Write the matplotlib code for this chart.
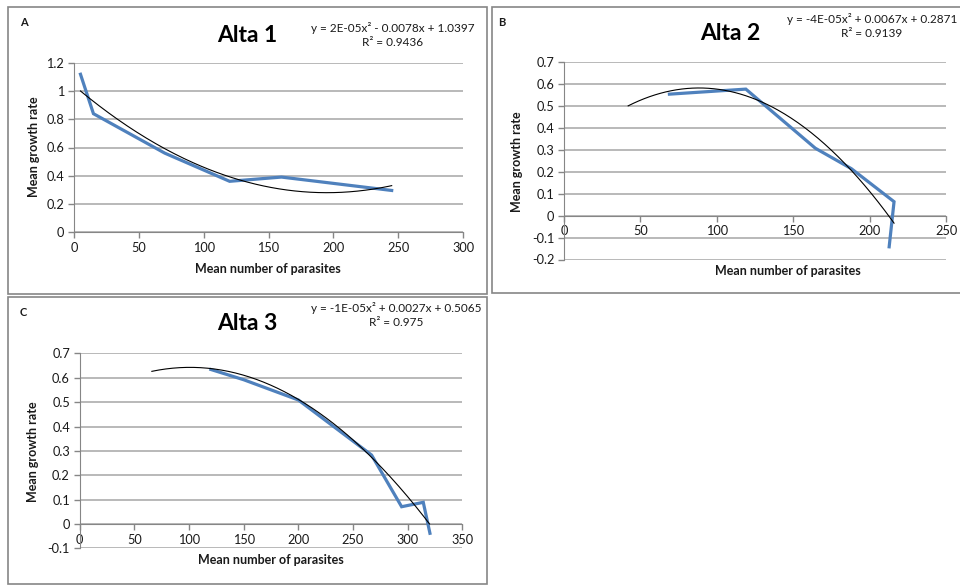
import matplotlib
matplotlib.use("Agg")
import matplotlib.pyplot as plt
from matplotlib.patches import Rectangle
import numpy as np

plt.rcParams['font.family'] = ['Lato', 'DejaVu Sans']

# Alta 1
a1_x = [5, 15, 70, 120, 160, 245]
a1_y = [1.12, 0.84, 0.56, 0.36, 0.39, 0.295]
a1_coef = [2.0e-5, -0.0078, 1.0397]
a1_r2 = 0.9436
a1_span = [5, 245]

# Alta 2
a2_x = [69, 119, 164.5, 188, 216, 212.8]
a2_y = [0.555, 0.578, 0.308, 0.215, 0.064, -0.142]
a2_coef = [-3.79e-5, 0.0067, 0.2871]
a2_r2 = 0.9139
a2_span = [42, 216]

# Alta 3
a3_x = [120, 150, 200, 267, 294.5, 314.3, 320.4]
a3_y = [0.634, 0.592, 0.509, 0.283, 0.071, 0.089, -0.038]
a3_coef = [-1.338e-5, 0.0027, 0.5065]
a3_r2 = 0.975
a3_span = [66, 320]

W, H = 960, 586
BLUE = '#4f81bd'
GRID = '#a6a6a6'
EDGE = '#868686'
TXT = '#1a1a1a'


def rect(l, t, r, b):
    return [l / W, 1 - b / H, (r - l) / W, (b - t) / H]


def equation(coef):
    a, b, c = coef
    s = f"y = {a:.0E}x\u00b2 "
    s += ("+ " if b >= 0 else "- ") + f"{abs(b):.4f}x "
    s += ("+ " if c >= 0 else "- ") + f"{abs(c):.4f}"
    return s


fig = plt.figure(figsize=(9.6, 5.86), dpi=100)

# panel frames
for l, t, r, b in [(8, 7, 487, 294), (492, 7, 961, 293), (8, 297, 487, 584)]:
    fig.patches.append(Rectangle((l / W, 1 - b / H), (r - l) / W, (b - t) / H,
                                 transform=fig.transFigure, fill=False,
                                 edgecolor=EDGE, lw=1.2))

panels = [
    dict(x=a1_x, y=a1_y, coef=a1_coef, r2=a1_r2, span=a1_span, title='Alta 1', tag='A',
         box=(74, 63, 463, 232), xlim=(0, 300), xstep=50, ylim=(0, 1.2), ystep=0.2,
         title_xy=(247, 35), eq_xy=(393, 35), tag_xy=(24, 23),
         ylab_xy=(34, 147), xlab_xy=(268, 269)),
    dict(x=a2_x, y=a2_y, coef=a2_coef, r2=a2_r2, span=a2_span, title='Alta 2', tag='B',
         box=(564, 62.4, 946, 259.5), xlim=(0, 250), xstep=50, ylim=(-0.2, 0.7), ystep=0.1,
         title_xy=(730, 33), eq_xy=(872, 26), tag_xy=(502, 23),
         ylab_xy=(517, 162), xlab_xy=(788, 271)),
    dict(x=a3_x, y=a3_y, coef=a3_coef, r2=a3_r2, span=a3_span, title='Alta 3', tag='C',
         box=(79.7, 353.4, 462.3, 548.4), xlim=(0, 350), xstep=50, ylim=(-0.1, 0.7), ystep=0.1,
         title_xy=(247, 323), eq_xy=(396, 315), tag_xy=(23, 313),
         ylab_xy=(33, 452), xlab_xy=(271, 560)),
]

for p in panels:
    ax = fig.add_axes(rect(*p['box']))
    ax.set_xlim(*p['xlim'])
    ax.set_ylim(*p['ylim'])
    ax.set_xticks(np.arange(p['xlim'][0], p['xlim'][1] + 1, p['xstep']))
    yt = np.round(np.arange(p['ylim'][0], p['ylim'][1] + 1e-9, p['ystep']), 1)
    ax.set_yticks(yt)
    ax.set_yticklabels([f"{v:g}" for v in yt])

    ax.grid(axis='y', color=GRID, lw=1.1)
    ax.set_axisbelow(True)
    for s in ['top', 'right']:
        ax.spines[s].set_visible(False)
    ax.spines['left'].set_color(EDGE)
    ax.spines['bottom'].set_color(EDGE)
    ax.spines['bottom'].set_position(('data', 0))
    ax.tick_params(axis='both', colors=EDGE, labelcolor=TXT, labelsize=9.2,
                   length=4, width=1, direction='out', pad=3)

    ax.plot(p['x'], p['y'], color=BLUE, lw=2.3, solid_joinstyle='miter', zorder=3)
    tx = np.linspace(p['span'][0], p['span'][1], 200)
    ax.plot(tx, np.polyval(p['coef'], tx), color='black', lw=0.8, zorder=4)

    fig.text(p['title_xy'][0] / W, 1 - p['title_xy'][1] / H, p['title'],
             ha='center', va='center', fontsize=16.5, fontweight='bold', color='black')
    fig.text(p['eq_xy'][0] / W, 1 - p['eq_xy'][1] / H,
             equation(p['coef']) + "\nR\u00b2 = " + f"{p['r2']:g}",
             ha='center', va='center', fontsize=8.5, color=TXT, linespacing=1.4)
    fig.text(p['tag_xy'][0] / W, 1 - p['tag_xy'][1] / H, p['tag'],
             ha='center', va='center', fontsize=8, fontweight='bold', color=TXT)
    fig.text(p['ylab_xy'][0] / W, 1 - p['ylab_xy'][1] / H, 'Mean growth rate',
             ha='center', va='center', rotation=90, fontsize=9, fontweight='bold', color=TXT)
    fig.text(p['xlab_xy'][0] / W, 1 - p['xlab_xy'][1] / H, 'Mean number of parasites',
             ha='center', va='center', fontsize=9, fontweight='bold', color=TXT)

fig.savefig('out.png', dpi=100)
